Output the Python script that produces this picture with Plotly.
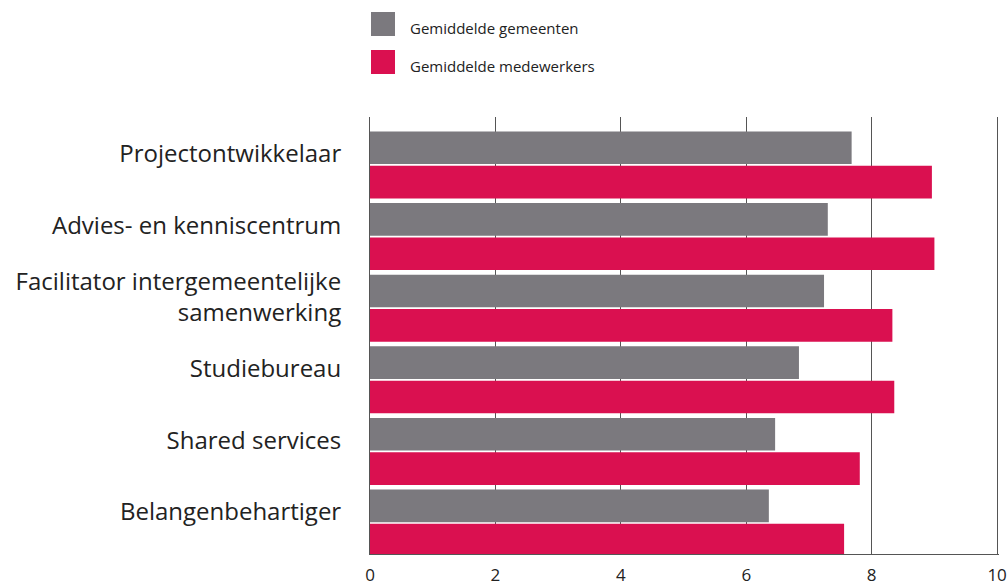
import plotly.graph_objects as go

categories = ["Projectontwikkelaar", "Advies- en kenniscentrum",
              "Facilitator intergemeentelijke<br>samenwerking", "Studiebureau",
              "Shared services", "Belangenbehartiger"]
series_names = ["Gemiddelde gemeenten", "Gemiddelde medewerkers"]
gemeenten = [7.68, 7.30, 7.24, 6.84, 6.46, 6.36]
medewerkers = [8.96, 9.00, 8.33, 8.36, 7.81, 7.56]
x_ticks = [0, 2, 4, 6, 8, 10]

GRAY = "#7B797E"
RED = "#DA1050"
FONT = "Open Sans"

L, R, T, B = 370, 9, 117, 31
PW, PH = 1008 - L - R, 585 - T - B

fig = go.Figure()
fig.add_trace(go.Bar(y=categories, x=gemeenten, orientation="h", name=series_names[0],
                     marker=dict(color=GRAY, line=dict(width=0)), showlegend=False))
fig.add_trace(go.Bar(y=categories, x=medewerkers, orientation="h", name=series_names[1],
                     marker=dict(color=RED, line=dict(width=0)), showlegend=False))

# manual legend (large square swatches)
for i, (name, col) in enumerate(zip(series_names, [GRAY, RED])):
    top = 12 + i * 38
    fig.add_shape(type="rect", xref="paper", yref="paper",
                  x0=(371 - L) / PW, x1=(395 - L) / PW,
                  y0=1 + (T - (top + 24)) / PH, y1=1 + (T - top) / PH,
                  fillcolor=col, line=dict(width=0))
    fig.add_annotation(xref="paper", yref="paper", x=(408 - L) / PW, y=1 + (T - (top + 16)) / PH,
                       text=name, showarrow=False, xanchor="left", yanchor="middle",
                       font=dict(family=FONT, size=15, color="#222"))

fig.update_layout(
    width=1008, height=585,
    margin=dict(l=L, r=R, t=T, b=B, autoexpand=False),
    paper_bgcolor="white", plot_bgcolor="white",
    barmode="group", bargap=0.04, bargroupgap=0.05,
    font=dict(family=FONT, color="#222"),
)
fig.update_xaxes(range=[0, 10.03], tickvals=x_ticks, showgrid=True, gridcolor="#555", gridwidth=1,
                 showline=True, linecolor="#555", linewidth=1, zeroline=False, automargin=False,
                 ticks="", tickfont=dict(size=17, color="#222"), ticklabelstandoff=6)
fig.update_yaxes(range=[5.433, -0.670], showgrid=False, showline=True, linecolor="#555",
                 linewidth=1, zeroline=False, automargin=False, ticks="",
                 tickfont=dict(size=24, color="#222"),
                 ticklabelstandoff=23, ticklabelshift=11)

fig.write_html("out.html", config={"displayModeBar": False},
               post_script="document.body.style.margin='0';document.body.style.overflow='hidden';")
